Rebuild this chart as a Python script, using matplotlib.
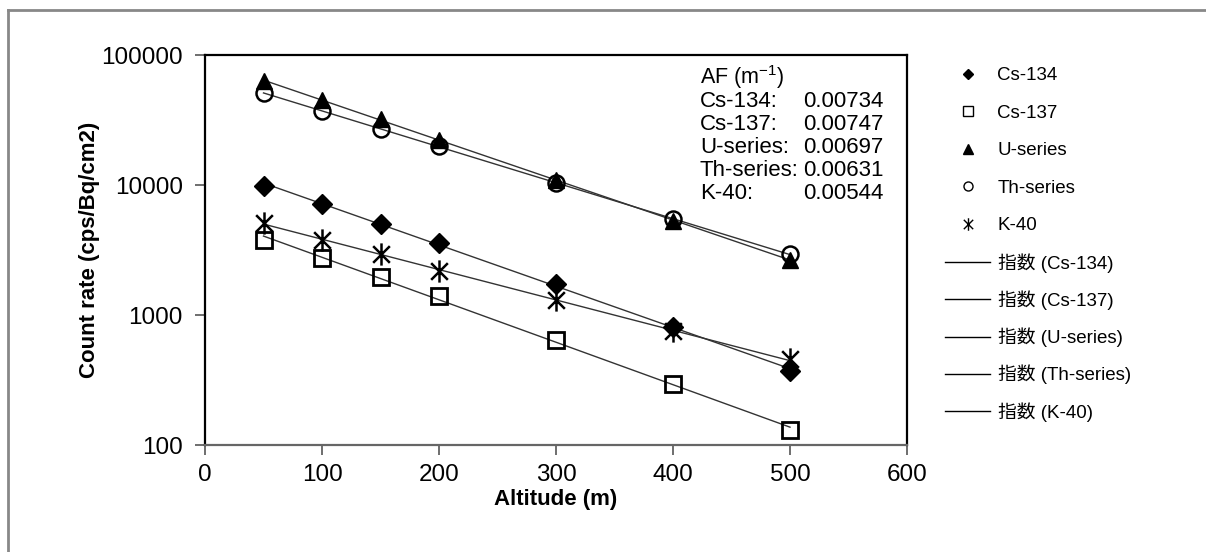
import numpy as np
import matplotlib
matplotlib.use("Agg")
import matplotlib.pyplot as plt
from matplotlib.lines import Line2D
from matplotlib.path import Path

plt.rcParams['font.family'] = ['Liberation Sans', 'Noto Sans CJK JP']

# data
altitude = [50, 100, 150, 200, 300, 400, 500]
cs134 = [9900, 7100, 5050, 3570, 1740, 810, 370]
cs137 = [3800, 2740, 1950, 1390, 640, 295, 130]
u_series = [63000, 45000, 32000, 22300, 11000, 5300, 2650]
th_series = [51400, 37000, 27000, 19800, 10300, 5450, 2950]
k40 = [5100, 3800, 2950, 2190, 1300, 750, 455]

names = ['Cs-134', 'Cs-137', 'U-series', 'Th-series', 'K-40']
af_labels = ['Cs-134:', 'Cs-137:', 'U-series:', 'Th-series:', 'K-40:']
af_values = ['0.00734', '0.00747', '0.00697', '0.00631', '0.00544']

# asterisk marker like Excel's (vertical bar + X)
star = Path([(0, -1), (0, 1), (-0.75, -0.75), (0.75, 0.75), (-0.75, 0.75), (0.75, -0.75)],
            [Path.MOVETO, Path.LINETO, Path.MOVETO, Path.LINETO, Path.MOVETO, Path.LINETO])

series = [cs134, cs137, u_series, th_series, k40]
styles = [
    dict(marker='D', ms=10.5, mfc='black', mec='black', mew=1),
    dict(marker='s', ms=11, mfc='none', mec='black', mew=2),
    dict(marker='^', ms=12, mfc='black', mec='black', mew=1),
    dict(marker='o', ms=11.5, mfc='none', mec='black', mew=1.8),
    dict(marker=star, ms=16, mfc='none', mec='black', mew=1.8),
]
leg_styles = [
    dict(marker='D', ms=5.5, mfc='black', mec='black', mew=1),
    dict(marker='s', ms=7, mfc='none', mec='black', mew=1),
    dict(marker='^', ms=7.5, mfc='black', mec='black', mew=1),
    dict(marker='o', ms=6.5, mfc='none', mec='black', mew=1),
    dict(marker=star, ms=9, mfc='none', mec='black', mew=1),
]

W, H = 1206, 552
fig = plt.figure(figsize=(W / 100, H / 100), dpi=100)
ax = fig.add_axes([205 / W, 1 - 445 / H, (907 - 205) / W, (445 - 55) / H])

x = np.array(altitude, dtype=float)
xf = np.linspace(50, 500, 100)
for vals in series:
    b, a = np.polyfit(x, np.log(vals), 1)
    ax.plot(xf, np.exp(a + b * xf), color='#333333', lw=1, zorder=2)
for vals, st in zip(series, styles):
    ax.plot(altitude, vals, ls='none', zorder=3, **st)

ax.set_yscale('log')
ax.set_ylim(100, 100000)
ax.set_xlim(0, 600)
ax.set_xticks(range(0, 601, 100))
ax.set_yticks([100, 1000, 10000, 100000])
ax.set_yticklabels(['100', '1000', '10000', '100000'])
ax.minorticks_off()
ax.tick_params(axis='both', labelsize=17.5, length=7, width=1.2, color='#555555')
ax.tick_params(axis='y', pad=9)
ax.tick_params(axis='x', pad=7)
for s in ax.spines.values():
    s.set_linewidth(1.6)
    s.set_color('black')
ax.spines['bottom'].set_color('#666666')

fig.text(90 / W, 1 - 250 / H, 'Count rate (cps/Bq/cm2)', rotation=90, fontsize=16,
         fontweight='bold', ha='center', va='center')
fig.text(556 / W, 1 - 499 / H, 'Altitude (m)', fontsize=16, fontweight='bold',
         ha='center', va='center')

# AF annotation
fig.text(700 / W, 1 - 77 / H, 'AF (m$^{\\mathregular{-1}}$)', fontsize=15.5, va='center')
for i, (lab, val) in enumerate(zip(af_labels, af_values)):
    yy = 1 - (102 + 22.8 * i) / H
    fig.text(700 / W, yy, lab, fontsize=16, va='center')
    fig.text(803 / W, yy, val, fontsize=16, va='center')

# legend: markers, then trendlines
mk_handles = [Line2D([], [], ls='none', **st) for st in leg_styles]
ln_handles = [Line2D([], [], color='black', lw=1) for _ in names]
ln_labels = ['指数 (%s)' % n for n in names]
leg1 = ax.legend(mk_handles, names, loc='upper left', bbox_to_anchor=(945 / W, 1 - 67 / H),
                 bbox_transform=fig.transFigure, frameon=False, fontsize=13.5,
                 handlelength=2.4, handletextpad=0.4, labelspacing=1.09,
                 borderpad=0, borderaxespad=0)
ax.add_artist(leg1)
ax.legend(ln_handles, ln_labels, loc='upper left', bbox_to_anchor=(945 / W, 1 - 253 / H),
          bbox_transform=fig.transFigure, frameon=False, fontsize=13.5,
          handlelength=2.4, handletextpad=0.4, labelspacing=0.94,
          borderpad=0, borderaxespad=0)

# outer gray frame
fig.add_artist(Line2D([8 / W, 1], [1 - 10 / H, 1 - 10 / H], color='#888888', lw=2))
fig.add_artist(Line2D([8 / W, 8 / W], [0, 1 - 10 / H], color='#888888', lw=2))

fig.savefig('out.png', dpi=100)
